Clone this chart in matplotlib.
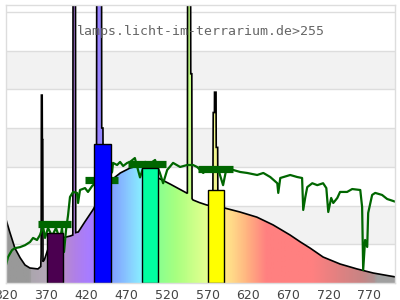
import numpy as np
import matplotlib
matplotlib.use("Agg")
import matplotlib.pyplot as plt
from matplotlib.colors import LinearSegmentedColormap
from matplotlib.patches import Polygon

# ---------------- data ----------------
# lamp spectrum (black outline, rainbow fill)
spec_nm = [320, 325, 331.5, 338, 344, 350, 360, 363.5, 364, 364.3, 365.3, 365.5, 366, 366.3,
           368, 372, 380, 390, 400, 403.2, 403.5, 406.5, 406.8, 410, 418, 428, 432.5, 432.8,
           438.8, 439, 440.5, 440.8, 450.5, 462, 474, 485, 490, 500, 509, 524, 545, 545.3,
           549, 549.2, 550.5, 550.8, 552, 560, 569, 576.5, 577, 578.5, 578.6, 580.5, 580.7,
           582.5, 582.8, 591, 610, 631, 651, 672, 685, 697, 713, 734, 755, 775, 796, 803]
spec_val = [67, 53, 36, 26, 18.6, 15.5, 14.5, 17, 30, 194, 194, 148, 148, 22,
            24, 34, 42, 46.5, 48.5, 49.5, 320, 320, 52, 52.7, 63, 75.4, 82, 320,
            320, 160, 160, 98, 106, 113.6, 118.7, 121, 120, 114, 108.4, 102, 92.5, 320,
            320, 216, 216, 87, 85.7, 83, 80.5, 79.5, 176, 176, 197, 197, 140,
            140, 78, 77.4, 73.3, 68, 60, 49.6, 42.3, 36, 26.8, 19.6, 14.5, 10.3, 7.2, 6.2]

# second measured spectrum (dark green line)
green_nm = [313, 320, 323, 328, 331.6, 337.8, 344, 350.2, 354, 358.9, 362.6, 366.3, 368.8, 372.5,
            377.5, 382.4, 387.4, 389.8, 392.3, 394.8, 397.3, 399.7, 403.5, 408.4, 409.7, 412.1,
            418.3, 422, 427, 432, 440, 446, 451.8, 453, 458, 461.7, 465.5, 470.5, 474, 480,
            486.4, 492.6, 500, 505, 511, 515, 520, 527.3, 536, 544.7, 552, 557, 564.6, 571,
            577, 583, 589.2, 593, 601.6, 610.4, 619, 631.4, 639, 647.6, 656.3, 657.5, 660,
            672.3, 681, 687, 688.4, 691, 693.4, 699.6, 705.8, 713, 717, 719.4, 723, 725.6,
            730.6, 734, 742.7, 749, 759, 761.3, 762.6, 765, 767.6, 768.8, 773.7, 777.5, 786,
            792.3, 796, 803.5, 808]
green_val = [10, 17, 26.8, 34, 36, 37, 39, 42.3, 46.5, 44.4, 49.6, 58.8, 46.5, 56.8,
             48.5, 56.8, 44.4, 57, 32, 54.7, 70, 88.8, 94, 93, 82.6, 96,
             98, 94, 100, 104, 106, 108, 114.6, 124, 121.8, 125, 120.8, 124, 125, 129,
             109, 125, 124, 127, 113.6, 103, 116.7, 124, 119.8, 121.8, 121.8, 119.8, 113.6, 118.7,
             114.6, 118, 101, 116.7, 116.7, 114.6, 113.6, 111.5, 113.6, 109.4, 103, 93, 108.4,
             111.5, 109.4, 108.4, 75.4, 88.8, 99, 103, 101, 103, 98, 73.3, 87.8, 82.6,
             87.8, 94, 94, 97, 96, 78.5, 13.4, 44.4, 37.2, 72.3, 90.9, 93, 90.9,
             86.7, 85.7, 83.6, 85]

# band averages (dark green blocks)
block_lo = [360, 418, 472, 558]
block_hi = [401, 459, 519, 602]
block_val = [61.4, 106.7, 122.4, 118.2]

# receptor bars
bar_left = [371, 430, 488.5, 570]
bar_val = [51.9, 143.2, 118.4, 96]
bar_colors = ["#4b0050", "#0000ff", "#00ffa0", "#ffff00"]

# wavelength colour stops for the fill
wl_stops = [320, 348, 350, 370, 390, 405, 420, 430, 450, 470, 488, 508, 530, 550, 570,
            590, 600, 620, 642, 700, 720, 760, 776, 780, 803]
wl_colors = ["#999999", "#999999", "#aca6ae", "#b4a8b8", "#b88ccc", "#b080e8", "#a87cff",
             "#a07cff", "#80a0ff", "#88c8ff", "#88f0ff", "#88ff90", "#a8ff80", "#c8ff88",
             "#e8ff90", "#ffe88a", "#ffd888", "#ffb080", "#ff8080", "#ff8080", "#ec8080",
             "#c88484", "#b09090", "#a0a0a0", "#a0a0a0"]

xticks = [320, 370, 420, 470, 520, 570, 620, 670, 720, 770]
title = "lamps.licht-im-terrarium.de>255"

# ---------------- figure ----------------
XMIN, XMAX = 320, 802
YMAX = 287
fig = plt.figure(figsize=(4, 3), dpi=100)
ax = fig.add_axes([0.014, 0.0567, 0.9735, 0.9266])
ax.set_facecolor("white")

# alternating bands and grid
for lo in (40, 120, 200):
    ax.axhspan(lo, lo + 40, color="#f2f2f2", zorder=0, lw=0)
for y in range(40, 281, 40):
    ax.axhline(y, color="#dddddd", lw=1, zorder=0.5)

# gradient fill under the spectrum
pos = [(w - wl_stops[0]) / (wl_stops[-1] - wl_stops[0]) for w in wl_stops]
cmap = LinearSegmentedColormap.from_list("wl", list(zip(pos, wl_colors)))
grad = np.linspace(wl_stops[0], wl_stops[-1], 500).reshape(1, -1)
img = ax.imshow(grad, extent=[wl_stops[0], wl_stops[-1], 0, 330], aspect="auto",
                cmap=cmap, vmin=wl_stops[0], vmax=wl_stops[-1], origin="lower",
                zorder=1, interpolation="bilinear")
verts = [(spec_nm[0], 0)] + list(zip(spec_nm, spec_val)) + [(spec_nm[-1], 0)]
clip = Polygon(verts, closed=True, facecolor="none", edgecolor="none", transform=ax.transData)
ax.add_patch(clip)
img.set_clip_path(clip)
ax.plot(spec_nm, spec_val, color="black", lw=1.2, zorder=2, solid_joinstyle="miter")

# green measured line and blocks
ax.plot(green_nm, green_val, color="#006600", lw=1.6, zorder=3)
ax.hlines(block_val, block_lo, block_hi, color="#006600", lw=5.2, zorder=3.5, capstyle="butt")

# bars
ax.bar(bar_left, bar_val, width=20, align="edge", color=bar_colors,
       edgecolor="black", lw=1, zorder=4)

ax.text(408.8, 260, title, family="DejaVu Sans Mono", fontsize=9.5, color="#666666",
        va="center", ha="left", zorder=5)

ax.set_xlim(XMIN, XMAX)
ax.set_ylim(0, YMAX)
ax.set_xticks(xticks)
ax.set_xticklabels([str(t) for t in xticks])
ax.set_yticks([])
ax.tick_params(axis="x", length=0, pad=4, labelsize=9, labelcolor="#444444")
for s in ax.spines.values():
    s.set_color("#dddddd")
    s.set_linewidth(1)
    s.set_zorder(6)

fig.savefig("out.png", dpi=100)
